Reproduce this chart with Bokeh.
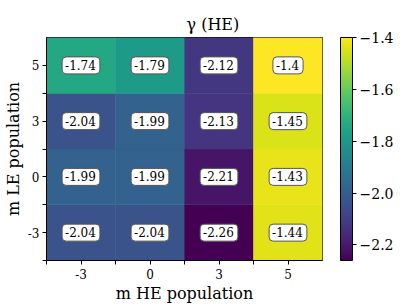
from bokeh.plotting import figure
from bokeh.models import (ColumnDataSource, LinearColorMapper, ColorBar, FixedTicker,
                          CustomJSTickFormatter, Range1d)
from bokeh.transform import transform
from bokeh.core.properties import value
from bokeh.palettes import Viridis256
from bokeh.embed import file_html
from bokeh.resources import INLINE

# ---- data ----
he_labels = ["-3", "0", "3", "5"]          # x categories (m HE population)
le_labels = ["-3", "0", "3", "5"]          # y categories (m LE population)
gamma_le_m3 = [-2.04, -2.04, -2.26, -1.44]
gamma_le_0 = [-1.99, -1.99, -2.21, -1.43]
gamma_le_3 = [-2.04, -1.99, -2.13, -1.45]
gamma_le_5 = [-1.74, -1.79, -2.12, -1.40]
cbar_ticks = [-2.2, -2.0, -1.8, -1.6, -1.4]

rows = [gamma_le_m3, gamma_le_0, gamma_le_3, gamma_le_5]
xs, ys, gs, txt = [], [], [], []
for i, row in enumerate(rows):
    for j, g in enumerate(row):
        xs.append(j + 0.5)
        ys.append(i + 0.5)
        gs.append(g)
        txt.append(f"{g:g}")
src = ColumnDataSource(dict(x=xs, y=ys, g=gs, t=txt))

all_vals = [v for r in rows for v in r]
mapper = LinearColorMapper(palette=Viridis256, low=min(all_vals), high=max(all_vals))

FONT = "DejaVu Serif"

p = figure(frame_width=276, frame_height=223, output_backend="svg", toolbar_location=None,
           x_range=Range1d(0, len(he_labels)), y_range=Range1d(0, len(le_labels)),
           title="γ (HE)", min_border_left=38, min_border_right=70, min_border_top=37,
           min_border_bottom=39)
p.rect(x="x", y="y", width=1, height=1, source=src,
       fill_color=transform("g", mapper), line_color=transform("g", mapper), line_width=0.5)
p.text(x="x", y="y", text="t", source=src, text_align="center", text_baseline="middle",
       text_font=value(FONT), text_font_size="12px", text_color="black",
       background_fill_color="white", border_line_color="#555555", border_line_width=1,
       border_radius=4, padding=[3, 4, 3, 4])

tick_fmt_code = """
const k = tick - 0.5;
if (Math.abs(k - Math.round(k)) < 1e-6) { return labels[Math.round(k)]; }
return "";
"""
for ax, labs, name in [(p.xaxis, he_labels, "m HE population"), (p.yaxis, le_labels, "m LE population")]:
    ax.ticker = FixedTicker(ticks=[k * 0.5 for k in range(2 * len(labs))])
    ax.formatter = CustomJSTickFormatter(args=dict(labels=labs), code=tick_fmt_code)
    ax.axis_label = name
    ax.axis_label_text_font = FONT
    ax.axis_label_text_font_size = "16px"
    ax.axis_label_text_font_style = "normal"
    ax.axis_label_text_color = "black"
    ax.axis_label_standoff = 2
    ax.major_label_text_font = FONT
    ax.major_label_text_font_size = "12px"
    ax.major_label_text_color = "black"
    ax.major_label_standoff = 3
    ax.major_tick_in = 0
    ax.major_tick_out = 4
    ax.major_tick_line_color = "black"
    ax.minor_tick_line_color = None
    ax.axis_line_color = "black"
p.xaxis.major_label_standoff = 4
p.yaxis.major_label_orientation = "horizontal"

p.xgrid.grid_line_color = None
p.ygrid.grid_line_color = None
p.outline_line_color = "black"
p.outline_line_width = 1

p.title.align = "left"
p.title.offset = 140
p.title.text_font = FONT
p.title.text_font_size = "16px"
p.title.text_font_style = "normal"
p.title.text_color = "black"
p.title.standoff = 8

cb_fmt = "return (tick < 0 ? '\\u2212' : '') + Math.abs(tick).toFixed(1);"
cb = ColorBar(color_mapper=mapper, ticker=FixedTicker(ticks=cbar_ticks),
              formatter=CustomJSTickFormatter(code=cb_fmt), width=12,
              major_tick_in=0, major_tick_out=4, major_tick_line_color="black",
              bar_line_color="black", label_standoff=3,
              major_label_text_font=FONT, major_label_text_font_size="14px",
              major_label_text_color="black", padding=0,
              location=(18, 0), border_line_color=None, background_fill_color=None)
p.add_layout(cb, "right")

open("out.html", "w").write(file_html(p, INLINE))
